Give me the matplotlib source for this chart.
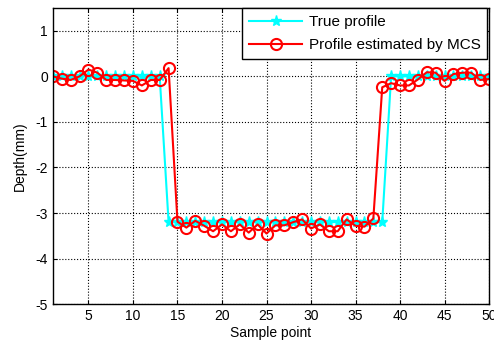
import numpy as np
import matplotlib.pyplot as plt

plt.rcParams['font.family'] = ['Liberation Sans', 'DejaVu Sans']
plt.rcParams['axes.unicode_minus'] = False

sample = np.arange(1, 51)
true_depth = [0.0] * 13 + [-3.2] * 25 + [0.0] * 12
mcs_depth = [0.0, -0.05, -0.08, 0.0, 0.15, 0.08, -0.08, -0.08, -0.09, -0.1,
             -0.2, -0.08, -0.08, 0.18, -3.19, -3.32, -3.17, -3.28, -3.4, -3.25,
             -3.4, -3.25, -3.43, -3.25, -3.45, -3.27, -3.27, -3.2, -3.14, -3.34,
             -3.25, -3.4, -3.4, -3.14, -3.28, -3.3, -3.12, -0.24, -0.15, -0.2,
             -0.2, -0.07, 0.09, 0.08, -0.1, 0.05, 0.08, 0.08, -0.08, -0.06]

fig = plt.figure(figsize=(4.94, 3.48), dpi=100)
ax = fig.add_axes([0.107, 0.126, 0.883, 0.851])

ax.plot(sample, true_depth, color='cyan', marker='*', markersize=8,
        linewidth=1.5, label='True profile')
ax.plot(sample, mcs_depth, color='red', marker='o', markersize=8,
        markerfacecolor='none', markeredgewidth=1.5, linewidth=1.5,
        label='Profile estimated by MCS')

ax.set_xlim(1, 50)
ax.set_ylim(-5, 1.5)
ax.set_xticks(np.arange(5, 51, 5))
ax.set_yticks(np.arange(-5, 2, 1))
ax.grid(True, color='black', linestyle=':', linewidth=0.8)
ax.tick_params(direction='in', labelsize=10, length=3, top=True, right=True)
for s in ax.spines.values():
    s.set_linewidth(1.0)

ax.set_xlabel('Sample point', fontsize=10, labelpad=2)
ax.set_ylabel('Depth(mm)', fontsize=10, labelpad=6)

leg = ax.legend(loc='upper right', bbox_to_anchor=(0.996, 1.0), fontsize=11,
                fancybox=False, framealpha=1, edgecolor='black',
                handlelength=3.5, borderaxespad=0, borderpad=0.45,
                labelspacing=0.6, handletextpad=0.4)
leg.get_frame().set_linewidth(1.0)

fig.savefig('out.png', dpi=100)
